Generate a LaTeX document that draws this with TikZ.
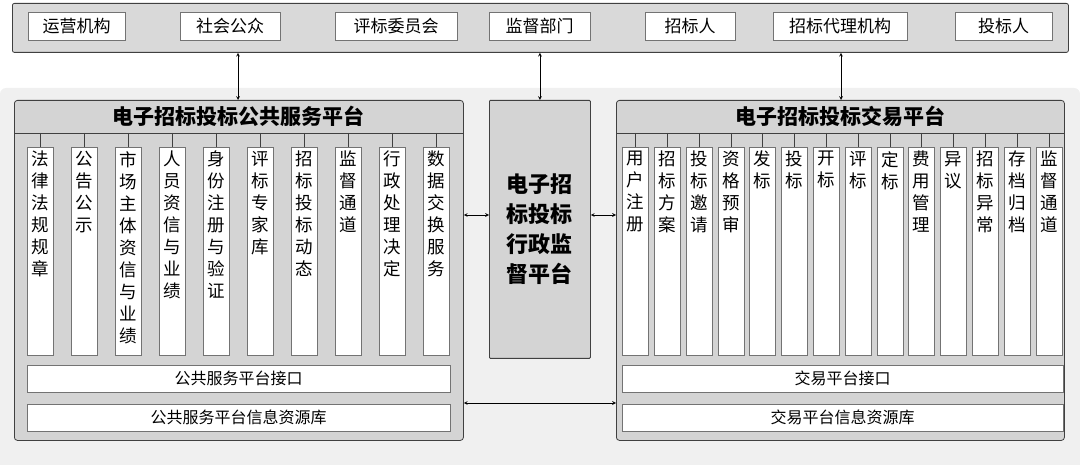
\documentclass[tikz,border=0pt]{standalone}
\usepackage{fontspec}
\setmainfont{Noto Sans CJK SC}
\begin{document}
\begin{tikzpicture}[x=1pt,y=-1pt,
 panel/.style={draw=black!75,fill=black!15,rounded corners=2pt,line width=0.8pt},
 wbox/.style={draw=black!55,fill=white,line width=0.6pt},
 item/.style={wbox,minimum height=28pt,font=\fontsize{17}{17}\selectfont,inner sep=0pt},
 col/.style={wbox,minimum width=26pt,minimum height=208pt,anchor=north,inner sep=0pt},
 ctext/.style={anchor=north,align=center,font=\fontsize{17.5}{22}\selectfont,inner sep=0pt},
 title/.style={font=\bfseries\fontsize{21}{21}\selectfont},
 arr/.style={<->,>=stealth,line width=0.7pt},
 tick/.style={draw=black!75,line width=0.6pt}]
\useasboundingbox (0,0) rectangle (1080,465);
\fill[black!6,rounded corners=6pt] (0,88) rectangle (1080,470);
% top bar
\node[panel,minimum width=1056pt,minimum height=49pt,anchor=north west] (top) at (12,3) {};
\node[item,minimum width=97pt] (t1) at (76.5,26) {运营机构};
\node[item,minimum width=100pt] (t2) at (230,26) {社会公众};
\node[item,minimum width=122pt] (t3) at (396,26) {评标委员会};
\node[item,minimum width=101pt] (t4) at (539.5,26) {监督部门};
\node[item,minimum width=90pt] (t5) at (690,26) {招标人};
\node[item,minimum width=134pt] (t6) at (840,26) {招标代理机构};
\node[item,minimum width=97pt] (t7) at (1003.5,26) {投标人};
% left panel
\node[panel,fill=black!17,minimum width=449pt,minimum height=340pt,anchor=north west,rounded corners=3pt] (L) at (14,100) {};
\draw[black!75,line width=0.8pt] (14,133) -- (463,133);
\node[title] (Lt) at (238.5,116) {电子招标投标公共服务平台};
\foreach \i/\t in {0/{法\\律\\法\\规\\规\\章},1/{公\\告\\公\\示},2/{市\\场\\主\\体\\资\\信\\与\\业\\绩},3/{人\\员\\资\\信\\与\\业\\绩},4/{身\\份\\注\\册\\与\\验\\证},5/{评\\标\\专\\家\\库},6/{招\\标\\投\\标\\动\\态},7/{监\\督\\通\\道},8/{行\\政\\处\\理\\决\\定},9/{数\\据\\交\\换\\服\\务}}{
 \pgfmathsetmacro{\cx}{40+44*\i}
 \node[col] (lc\i) at (\cx,147) {};
 \node[ctext] at (\cx,151) {\t};
 \draw[tick] (\cx,133) -- (lc\i.north);
}
\node[wbox,minimum width=423pt,minimum height=27pt,font=\fontsize{16}{16}\selectfont] (Li) at (238.5,378.5) {公共服务平台接口};
\node[wbox,minimum width=423pt,minimum height=27pt,font=\fontsize{16}{16}\selectfont] (Lr) at (238.5,417.5) {公共服务平台信息资源库};
% middle
\node[panel,fill=black!17,minimum width=101pt,minimum height=258pt,anchor=north west,rounded corners=1pt,align=center,font=\bfseries\fontsize{22}{30}\selectfont] (M) at (489,100) {电子招\\标投标\\行政监\\督平台};
% right panel
\node[panel,fill=black!17,minimum width=448pt,minimum height=340pt,anchor=north west,rounded corners=3pt] (R) at (616,100) {};
\draw[black!75,line width=0.8pt] (616,133) -- (1064,133);
\node[title] (Rt) at (840,116) {电子招标投标交易平台};
\foreach \i/\t in {0/{用\\户\\注\\册},1/{招\\标\\方\\案},2/{投\\标\\邀\\请},3/{资\\格\\预\\审},4/{发\\标},5/{投\\标},6/{开\\标},7/{评\\标},8/{定\\标},9/{费\\用\\管\\理},10/{异\\议},11/{招\\标\\异\\常},12/{存\\档\\归\\档},13/{监\\督\\通\\道}}{
 \pgfmathsetmacro{\cx}{635.5+31.8*\i}
 \node[col] (rc\i) at (\cx,147) {};
 \node[ctext] at (\cx,151) {\t};
 \draw[tick] (\cx,133) -- (rc\i.north);
}
\node[wbox,minimum width=441pt,minimum height=27pt,font=\fontsize{16}{16}\selectfont] (Ri) at (842.5,378.5) {交易平台接口};
\node[wbox,minimum width=441pt,minimum height=27pt,font=\fontsize{16}{16}\selectfont] (Rr) at (842.5,417.5) {交易平台信息资源库};
% arrows
\draw[arr] (top.south -| 238,0) -- (L.north -| 238,0);
\draw[arr] (top.south -| M.north) -- (M.north);
\draw[arr] (top.south -| 841,0) -- (R.north -| 841,0);
\draw[arr] (L.east |- 0,215) -- (M.west |- 0,215);
\draw[arr] (M.east |- 0,215) -- (R.west |- 0,215);
\draw[arr] (L.east |- 0,403) -- (R.west |- 0,403);
\end{tikzpicture}
\end{document}
